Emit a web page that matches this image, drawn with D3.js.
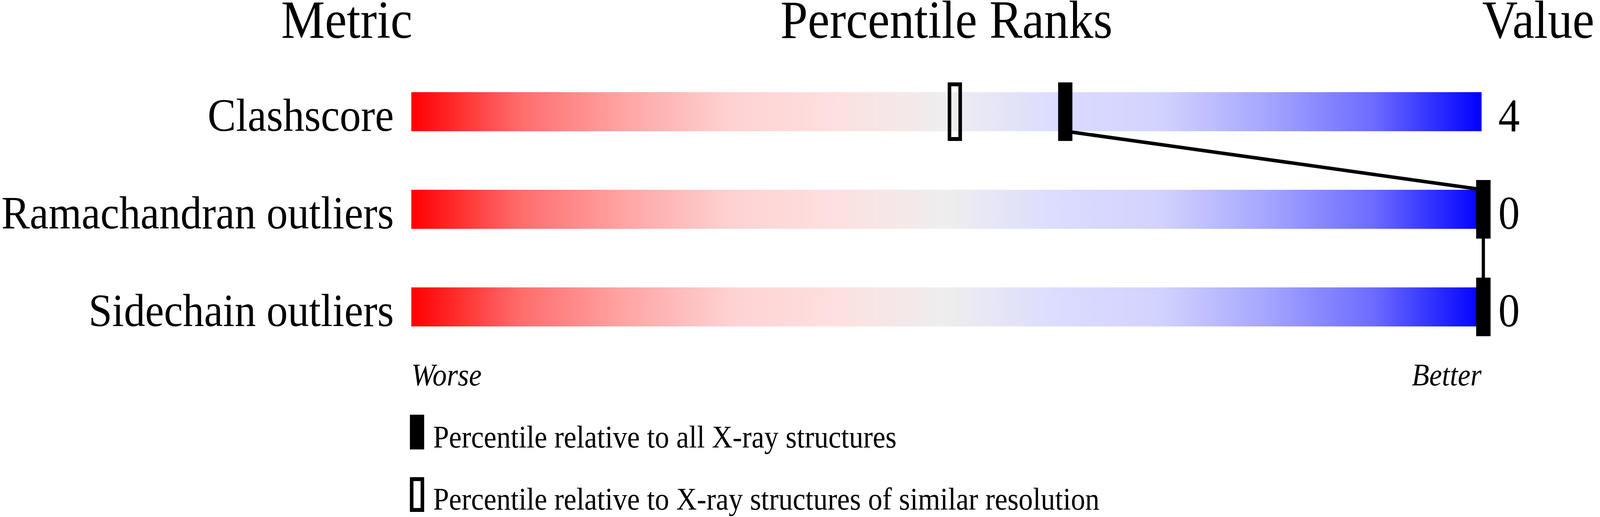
<!DOCTYPE html>
<html>
<head>
<meta charset="utf-8">
<script src="https://cdn.jsdelivr.net/npm/d3@7"></script>
<style>
  html, body { margin: 0; padding: 0; background: #fff; overflow: hidden; }
  svg { display: block; width: 100vw; height: 100vh; }
  text { font-family: "Liberation Serif", "Times New Roman", serif; fill: #000; }
</style>
</head>
<body>
<svg id="chart"></svg>
<script>
// data
const metrics = ["Clashscore", "Ramachandran outliers", "Sidechain outliers"];
const values = ["4", "0", "0"];
const pctAll = [61, 100, 100];        // filled marker
const pctSimilar = [50.7, 100, 100];  // hollow marker
const headers = ["Metric", "Percentile Ranks", "Value"];
const endLabels = ["Worse", "Better"];
const legendLabels = [
    "Percentile relative to all X-ray structures",
    "Percentile relative to X-ray structures of similar resolution"
];

const gradStops = [
    [0, "#ff0000"], [0.1, "#ff6b6b"], [0.2, "#ffa5a5"], [0.3, "#ffd2d2"],
    [0.4, "#fde0e0"], [0.5, "#eeeeee"], [0.6, "#dcdcff"], [0.7, "#d2d2ff"],
    [0.8, "#a5a5ff"], [0.9, "#6b6bff"], [1, "#0000ff"]
];

var width = 4485, height = 1324;
var barLeft = 1153, barRight = 4153, barH = 100;
var markW = 40, markH = 150;

// stretch the drawing to fill the window
var svg = d3.select("#chart")
    .attr("viewBox", "0 0 " + width + " " + height)
    .attr("preserveAspectRatio", "none");

var x = d3.scaleLinear().domain([0, 100]).range([barLeft, barRight + 5]);
var y = d3.scalePoint().domain(metrics).range([286, 786]); // row centres

var grad = svg.append("defs").append("linearGradient")
    .attr("id", "slider")
    .attr("x1", "0%").attr("x2", "100%").attr("y1", "0%").attr("y2", "0%");
grad.selectAll("stop")
    .data(gradStops)
    .enter()
    .append("stop")
    .attr("offset", function(d) { return d[0]; })
    .attr("stop-color", function(d) { return d[1]; });

// headers
svg.append("text").text(headers[0])
    .attr("x", barLeft + 3).attr("y", 97)
    .attr("text-anchor", "end").attr("font-size", 138);
svg.append("text").text(headers[1])
    .attr("x", (barLeft + barRight) / 2).attr("y", 97)
    .attr("text-anchor", "middle").attr("font-size", 138);
svg.append("text").text(headers[2])
    .attr("x", barRight + 2).attr("y", 97)
    .attr("font-size", 138);

// bars
svg.selectAll("rect.bar")
    .data(metrics)
    .enter()
    .append("rect")
    .attr("class", "bar")
    .attr("x", barLeft)
    .attr("y", function(d) { return y(d) - barH / 2; })
    .attr("width", barRight - barLeft)
    .attr("height", barH)
    .attr("fill", "url(#slider)");

// metric names
svg.selectAll("text.metric")
    .data(metrics)
    .enter()
    .append("text")
    .attr("class", "metric")
    .attr("x", barLeft - 49)
    .attr("y", function(d) { return y(d) + barH / 2 - 1; })
    .attr("text-anchor", "end")
    .attr("font-size", 119)
    .text(function(d) { return d; });

// values
svg.selectAll("text.value")
    .data(values)
    .enter()
    .append("text")
    .attr("class", "value")
    .attr("x", barRight + 47)
    .attr("y", function(d, i) { return y(metrics[i]) + barH / 2; })
    .attr("font-size", 120)
    .text(function(d) { return d; });

// hollow markers
svg.selectAll("rect.similar")
    .data(pctSimilar)
    .enter()
    .append("rect")
    .attr("class", "similar")
    .attr("x", function(d) { return x(d) - markW / 2 + 5; })
    .attr("y", function(d, i) { return y(metrics[i]) - markH / 2 + 5; })
    .attr("width", markW - 10)
    .attr("height", markH - 10)
    .attr("fill", "none")
    .attr("stroke", "#000")
    .attr("stroke-width", 10);

// connecting line between filled markers
var pts = [];
pctAll.forEach(function(p, i) {
    var cy = y(metrics[i]);
    if (i > 0) pts.push([x(p), cy - barH / 2]);
    if (i < pctAll.length - 1) pts.push([x(p), cy + barH / 2]);
});
svg.append("path")
    .attr("d", d3.line()(pts))
    .attr("fill", "none")
    .attr("stroke", "#000")
    .attr("stroke-width", 9);

// filled markers
svg.selectAll("rect.all")
    .data(pctAll)
    .enter()
    .append("rect")
    .attr("class", "all")
    .attr("x", function(d) { return x(d) - markW / 2; })
    .attr("y", function(d, i) { return y(metrics[i]) - markH / 2; })
    .attr("width", markW)
    .attr("height", markH)
    .attr("fill", "#000");

// worse / better
svg.append("text").text(endLabels[0])
    .attr("x", barLeft).attr("y", 987)
    .attr("font-style", "italic").attr("font-size", 80);
svg.append("text").text(endLabels[1])
    .attr("x", barRight).attr("y", 987)
    .attr("text-anchor", "end")
    .attr("font-style", "italic").attr("font-size", 80);

// legend
var legend = svg.selectAll("g.legend")
    .data(legendLabels)
    .enter()
    .append("g")
    .attr("class", "legend")
    .attr("transform", function(d, i) { return "translate(0," + (1062 + i * 160) + ")"; });

legend.append("rect")
    .attr("x", function(d, i) { return i ? 1154 : 1149; })
    .attr("y", function(d, i) { return i ? 5 : 0; })
    .attr("width", function(d, i) { return i ? 30 : 40; })
    .attr("height", function(d, i) { return i ? 79 : 89; })
    .attr("fill", function(d, i) { return i ? "none" : "#000"; })
    .attr("stroke", function(d, i) { return i ? "#000" : "none"; })
    .attr("stroke-width", 10);

legend.append("text")
    .attr("x", 1214)
    .attr("y", function(d, i) { return i ? 83 : 84; })
    .attr("font-size", 80)
    .text(function(d) { return d; });
</script>
</body>
</html>
